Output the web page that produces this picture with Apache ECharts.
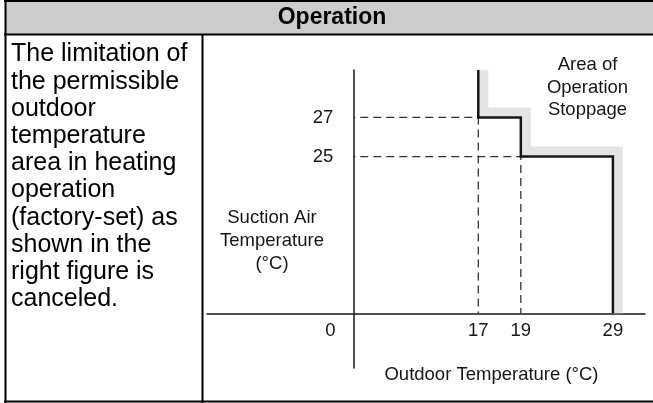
<!DOCTYPE html>
<html>
<head>
<meta charset="utf-8">
<script src="https://cdn.jsdelivr.net/npm/echarts@6/dist/echarts.min.js"></script>
<style>
  html, body { margin: 0; padding: 0; background: #fff; }
  #chart { width: 653px; height: 403px; }
</style>
</head>
<body>
<div id="chart"></div>
<script>
// ---- values ----
const outdoorTicks = [0, 17, 19, 29];           // outdoor temperature (°C)
const suctionTicks = [0, 25, 27];               // suction air temperature (°C)
// limit of the permissible area (null = runs up to the top of the axis)
const limitOutdoor = [17, 17, 19, 19, 29, 29];
const limitSuction = [null, 27, 27, 25, 25, 0];

// ---- texts ----
const headerText = 'Operation';
const noteLines = [
  'The limitation of', 'the permissible', 'outdoor', 'temperature',
  'area in heating', 'operation', '(factory-set) as', 'shown in the',
  'right figure is', 'canceled.'
];
const yAxisTitle = ['Suction Air', 'Temperature', '(°C)'];
const xAxisTitle = 'Outdoor Temperature (°C)';
const zoneTitle = ['Area of', 'Operation', 'Stoppage'];

// ---- schematic layout: the diagram is not drawn to scale ----
const OUTDOOR_STOPS = [0, 3, 4.02, 6.23];
const SUCTION_STOPS = [0, 4, 5];
const X_RANGE = [-3.51, 7.0];
const Y_RANGE = [-1.395, 6.21];
const GRID = { left: 207, right: 8, top: 70, bottom: 35 };
const W = 653, H = 403;
const FONT = 'Liberation Sans, Arial, sans-serif';
const INK = '#161616';

// piecewise-linear placement of a temperature on the schematic axis
function place(v, ticks, stops) {
  let i = 0;
  while (i < ticks.length - 2 && v > ticks[i + 1]) i++;
  const t = (v - ticks[i]) / (ticks[i + 1] - ticks[i]);
  return stops[i] + t * (stops[i + 1] - stops[i]);
}
const px = v => place(v, outdoorTicks, OUTDOOR_STOPS);
const py = v => place(v, suctionTicks, SUCTION_STOPS);

// shift each axis from the grid edge onto the other axis' zero
const gridW = W - GRID.left - GRID.right;
const gridH = H - GRID.top - GRID.bottom;
const xAxisShift = -(0 - Y_RANGE[0]) / (Y_RANGE[1] - Y_RANGE[0]) * gridH;
const yAxisShift = -(0 - X_RANGE[0]) / (X_RANGE[1] - X_RANGE[0]) * gridW;

const limitLine = limitOutdoor.map((x, i) => [
  px(x), limitSuction[i] == null ? Y_RANGE[1] : py(limitSuction[i])
]);

// dashed guides from each step corner back to both axes
const guides = [];
for (let i = 1; i < limitOutdoor.length - 1; i++) {
  if (limitOutdoor[i] === limitOutdoor[i - 1] &&
      limitSuction[i] === limitSuction[i + 1] && limitSuction[i] > 0) {
    const cx = px(limitOutdoor[i]), cy = py(limitSuction[i]);
    guides.push([[px(0), cy], [cx, cy], [cx, py(0)]]);
  }
}

function labelFor(value, ticks, toPos) {
  const i = ticks.findIndex(t => Math.abs(toPos(t) - value) < 1e-6);
  return i < 0 ? '' : String(ticks[i]);
}

const chart = echarts.init(document.getElementById('chart'), null, { renderer: 'canvas' });

const option = {
  animation: false,
  backgroundColor: '#fff',
  grid: Object.assign({ containLabel: false, outerBoundsMode: 'none' }, GRID),
  xAxis: {
    type: 'value', min: X_RANGE[0], max: X_RANGE[1],
    position: 'bottom', offset: xAxisShift,
    axisLine: { onZero: false, lineStyle: { color: INK, width: 1.5 } },
    axisTick: { show: false },
    splitLine: { show: false },
    axisLabel: {
      customValues: outdoorTicks.map(px),
      margin: 8,
      color: INK, fontSize: 18.5, fontFamily: FONT,
      formatter: v => {
        const s = labelFor(v, outdoorTicks, px);
        return s === '0' ? '{origin|0}' : s;
      },
      rich: { origin: { padding: [0, 46, 0, 0], fontSize: 18.5, fontFamily: FONT, color: INK } }
    }
  },
  yAxis: {
    type: 'value', min: Y_RANGE[0], max: Y_RANGE[1],
    position: 'left', offset: yAxisShift,
    axisLine: { onZero: false, lineStyle: { color: INK, width: 1.5 } },
    axisTick: { show: false },
    splitLine: { show: false },
    axisLabel: {
      customValues: suctionTicks.filter(t => t > 0).map(py),
      margin: 20,
      color: INK, fontSize: 18.5, fontFamily: FONT,
      formatter: v => labelFor(v, suctionTicks, py)
    }
  },
  series: [
    {
      // light shadow band along the outside of the limit
      type: 'custom', coordinateSystem: 'cartesian2d', silent: true, z: 1,
      data: [[0, 0]],
      renderItem: (params, api) => {
        const pts = limitLine.map(p => api.coord(p));
        const n = pts.length;
        const band = pts.map((p, i) => [p[0] + 5, (i === 0 || i === n - 1) ? p[1] : p[1] - 5]);
        return {
          type: 'polyline',
          shape: { points: band },
          style: { stroke: '#e4e4e4', lineWidth: 10, fill: null, lineJoin: 'miter', lineCap: 'butt' }
        };
      }
    },
    ...guides.map(g => ({
      type: 'line', data: g, showSymbol: false, symbol: 'none', silent: true, z: 2,
      lineStyle: { color: '#333', width: 1.3, type: [8, 5], dashOffset: -7 }
    })),
    {
      type: 'line', data: limitLine, showSymbol: false, symbol: 'none', silent: true, z: 3,
      lineStyle: { color: INK, width: 2.5, join: 'miter', cap: 'butt' }
    }
  ],
  graphic: [
    // table frame
    { type: 'rect', shape: { x: 5, y: 1, width: 648, height: 33.5 }, style: { fill: '#cccccc' }, z: 0 },
    { type: 'line', shape: { x1: 4, y1: 1, x2: 653, y2: 1 }, style: { stroke: '#000', lineWidth: 2 } },
    { type: 'line', shape: { x1: 4, y1: 34.5, x2: 653, y2: 34.5 }, style: { stroke: '#000', lineWidth: 2 } },
    { type: 'line', shape: { x1: 5.5, y1: 0, x2: 5.5, y2: 403 }, style: { stroke: '#000', lineWidth: 2 } },
    { type: 'line', shape: { x1: 202.5, y1: 34, x2: 202.5, y2: 403 }, style: { stroke: '#000', lineWidth: 2 } },
    { type: 'line', shape: { x1: 4, y1: 401.5, x2: 653, y2: 401.5 }, style: { stroke: '#000', lineWidth: 2 } },
    // header
    {
      type: 'text', x: 332, y: 17.5,
      style: { text: headerText, fontSize: 23, fontWeight: 'bold', fontFamily: FONT, fill: '#000', align: 'center', verticalAlign: 'middle' }
    },
    // note on the left
    {
      type: 'text', x: 11, y: 41,
      style: { text: noteLines.join('\n'), fontSize: 25, lineHeight: 27.2, fontFamily: FONT, fill: '#000', align: 'left', verticalAlign: 'top' }
    },
    // axis titles and zone title
    {
      type: 'text', x: 272, y: 241,
      style: { text: yAxisTitle.join('\n'), fontSize: 18.5, lineHeight: 23, fontFamily: FONT, fill: INK, align: 'center', verticalAlign: 'middle' }
    },
    {
      type: 'text', x: 491.5, y: 375,
      style: { text: xAxisTitle, fontSize: 18.5, fontFamily: FONT, fill: INK, align: 'center', verticalAlign: 'middle' }
    },
    {
      type: 'text', x: 587.5, y: 87.5,
      style: { text: zoneTitle.join('\n'), fontSize: 18.5, lineHeight: 22.5, fontFamily: FONT, fill: INK, align: 'center', verticalAlign: 'middle' }
    }
  ]
};

chart.setOption(option);
</script>
</body>
</html>
